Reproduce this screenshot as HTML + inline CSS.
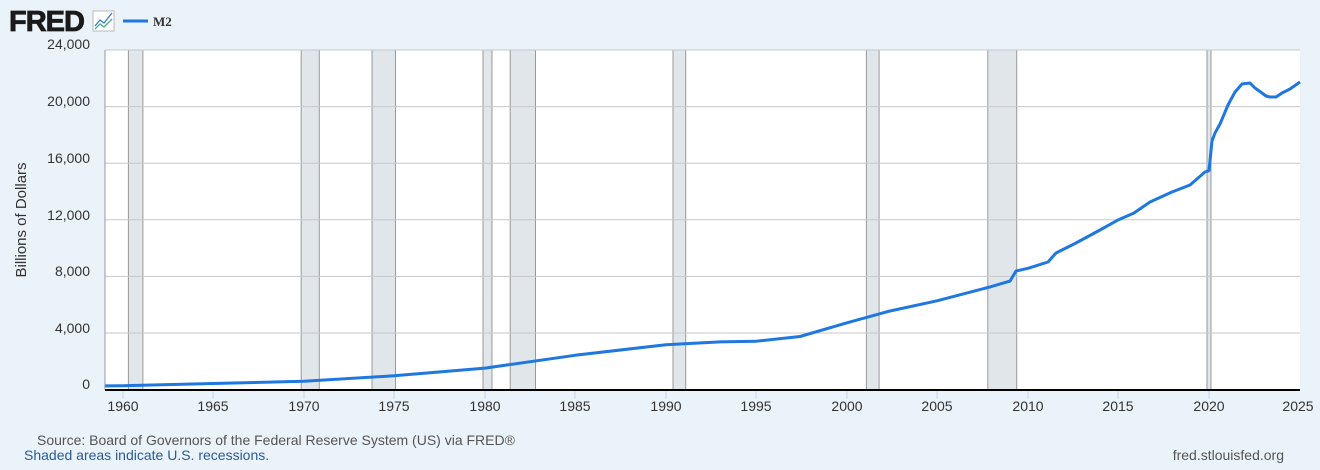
<!DOCTYPE html>
<html><head><style>
body{margin:0;width:1320px;height:465px;background:#eaf2fa;font-family:"Liberation Sans",sans-serif;overflow:hidden}
</style></head><body>
<svg width="1320" height="465" xmlns="http://www.w3.org/2000/svg" font-family="Liberation Sans, sans-serif">
<rect width="1320" height="465" fill="#eaf2fa"/>
<text x="9" y="31" font-size="29" font-weight="bold" fill="#1a1a1a" letter-spacing="-1" stroke="#1a1a1a" stroke-width="0.8">FRED</text>
<rect x="93" y="11" width="21" height="20" fill="#fff" stroke="#bbb"/>
<polyline points="95,26 100,20 104,23 112,13" fill="none" stroke="#3a7bd5" stroke-width="1.3"/>
<polyline points="95,29 100,24 104,27 112,19" fill="none" stroke="#4caf8f" stroke-width="1.3"/>
<line x1="123" y1="21" x2="148" y2="21" stroke="#1f77e0" stroke-width="3"/>
<text x="153" y="26" font-size="13" font-weight="bold" font-family="Liberation Serif, serif" fill="#333">M2</text>
<rect x="105" y="50" width="1195" height="340" fill="#fff"/>
<g fill="#e1e6eb" stroke="#999" stroke-width="1">
<rect x="128.4" y="50" width="14.5" height="340"/>
<rect x="301.2" y="50" width="18.1" height="340"/>
<rect x="372.0" y="50" width="23.5" height="340"/>
<rect x="483" y="50" width="9" height="340"/>
<rect x="510.2" y="50" width="25.3" height="340"/>
<rect x="673.0" y="50" width="12.7" height="340"/>
<rect x="866.4" y="50" width="12.7" height="340"/>
<rect x="987.8" y="50" width="28.9" height="340"/>
<rect x="1207.0" y="50" width="4" height="340"/>
</g>
<g stroke="#c8c8c8" stroke-width="1">
<line x1="105" y1="50" x2="1300" y2="50"/><line x1="105" y1="106.6" x2="1300" y2="106.6"/>
<line x1="105" y1="163.2" x2="1300" y2="163.2"/><line x1="105" y1="219.8" x2="1300" y2="219.8"/>
<line x1="105" y1="276.4" x2="1300" y2="276.4"/><line x1="105" y1="333" x2="1300" y2="333"/>
</g>
<line x1="105" y1="50" x2="105" y2="390" stroke="#999"/>
<g stroke="#c8d6ea" stroke-width="1">
<line x1="123" y1="391" x2="123" y2="399"/><line x1="213" y1="391" x2="213" y2="399"/><line x1="304" y1="391" x2="304" y2="399"/>
<line x1="394" y1="391" x2="394" y2="399"/><line x1="485" y1="391" x2="485" y2="399"/><line x1="575" y1="391" x2="575" y2="399"/>
<line x1="666" y1="391" x2="666" y2="399"/><line x1="756" y1="391" x2="756" y2="399"/><line x1="847" y1="391" x2="847" y2="399"/>
<line x1="937" y1="391" x2="937" y2="399"/><line x1="1028" y1="391" x2="1028" y2="399"/><line x1="1118" y1="391" x2="1118" y2="399"/>
<line x1="1209" y1="391" x2="1209" y2="399"/>
</g>
<line x1="105" y1="390" x2="1300" y2="390" stroke="#000" stroke-width="2"/>
<g font-size="14" fill="#333" text-anchor="end">
<text x="90" y="49">24,000</text><text x="90" y="106">20,000</text><text x="90" y="163">16,000</text>
<text x="90" y="220">12,000</text><text x="90" y="276">8,000</text><text x="90" y="333">4,000</text><text x="90" y="389">0</text>
</g>
<text transform="translate(26,220) rotate(-90)" font-size="15" fill="#333" text-anchor="middle">Billions of Dollars</text>
<g font-size="14" fill="#333" text-anchor="middle">
<text x="123" y="411">1960</text><text x="213" y="411">1965</text><text x="304" y="411">1970</text>
<text x="394" y="411">1975</text><text x="485" y="411">1980</text><text x="575" y="411">1985</text>
<text x="666" y="411">1990</text><text x="756" y="411">1995</text><text x="847" y="411">2000</text>
<text x="937" y="411">2005</text><text x="1028" y="411">2010</text><text x="1118" y="411">2015</text>
<text x="1209" y="411">2020</text><text x="1298" y="411">2025</text>
</g>
<polyline fill="none" stroke="#1f77e0" stroke-width="3" stroke-linejoin="round" points="
105,385.9 123,385.7 213,383.5 304,381.2 394,375.8 485,368.1 575,355.3 666,344.7 720,341.9 756,341.3 800,336.5 847,322.8 890,311 937,300.8 990,286.9 1010,281.1 1016,271 1028,268.3 1048,262 1056,253 1076,243 1100,230 1118,220 1134,213 1150,202 1172,192 1190,185 1205,172 1209,170.7 1212,141 1215,133 1220,124 1228,105 1235,92 1242,84 1250,83 1255,88 1262,93 1266,96 1270,97 1276,97 1282,93 1290,89 1300,82"/>
<text x="37" y="445" font-size="14" fill="#555">Source: Board of Governors of the Federal Reserve System (US) via FRED®</text>
<text x="24" y="460" font-size="14" fill="#2a5a9a">Shaded areas indicate U.S. recessions.</text>
<text x="1284" y="460" font-size="14" fill="#555" text-anchor="end">fred.stlouisfed.org</text>
</svg>
</body></html>
